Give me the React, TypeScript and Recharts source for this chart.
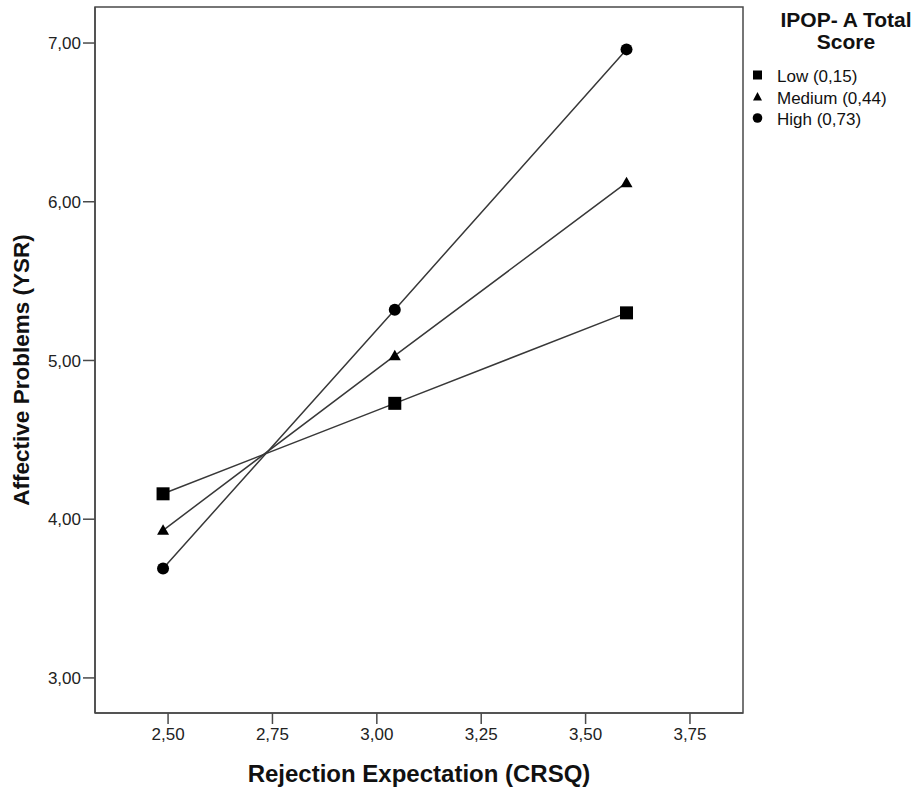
import React from "react";
import { Line, LineChart, ReferenceArea, XAxis, YAxis } from "recharts";

const xValues = [2.488, 3.043, 3.598];
const lowValues = [4.16, 4.73, 5.3];
const mediumValues = [3.93, 5.03, 6.12];
const highValues = [3.69, 5.32, 6.96];
const xTicks = [2.5, 2.75, 3.0, 3.25, 3.5, 3.75];
const yTicks = [3, 4, 5, 6, 7];
const seriesNames = ["Low (0,15)", "Medium (0,44)", "High (0,73)"];
const seriesShapes = ["square", "triangle", "circle"];

const X_DOMAIN: [number, number] = [2.325, 3.877];
const Y_DOMAIN: [number, number] = [2.779, 7.227];

const FONT = '"Liberation Sans", Arial, sans-serif';
const LINE = "#383838";
const AXIS = "#4a4a4a";

const fmt = (v: number) => v.toFixed(2).replace(".", ",");

const toRows = (ys: number[]) => xValues.map((x, i) => ({ x, y: ys[i] }));

function Marker({ cx, cy, shape }: { cx?: number; cy?: number; shape: string }) {
  if (cx == null || cy == null) return null;
  if (shape === "square") {
    return <rect x={cx - 6.5} y={cy - 6.5} width={13} height={13} fill="#000" />;
  }
  if (shape === "triangle") {
    return (
      <polygon
        points={`${cx},${cy - 6} ${cx - 6},${cy + 4.5} ${cx + 6},${cy + 4.5}`}
        fill="#000"
      />
    );
  }
  return <circle cx={cx} cy={cy} r={6} fill="#000" />;
}

// y title sits a little below the plot's middle in the original
function YTitle({ viewBox }: any) {
  const cy = (viewBox?.y ?? 0) + (viewBox?.height ?? 0) / 2 + 10;
  const x = 29;
  return (
    <text
      x={x}
      y={cy}
      transform={`rotate(-90, ${x}, ${cy})`}
      textAnchor="middle"
      fontSize={22.5}
      fontWeight="bold"
      fill="#111"
      fontFamily={FONT}
    >
      Affective Problems (YSR)
    </text>
  );
}

// legend drawn as an overlay so it does not eat into the plot width
function LegendOverlay() {
  return (
    <svg
      width={176}
      height={140}
      style={{ position: "absolute", left: 745, top: 0 }}
      fontFamily={FONT}
    >
      <text x={101} y={27} textAnchor="middle" fontSize={21} fontWeight="bold" fill="#111">
        IPOP- A Total
      </text>
      <text x={101} y={49} textAnchor="middle" fontSize={21} fontWeight="bold" fill="#111">
        Score
      </text>
      {seriesNames.map((name, i) => {
        const base = 82 + i * 21.5;
        const cy = base - 7;
        const shape = seriesShapes[i];
        return (
          <g key={name}>
            {shape === "square" && <rect x={8} y={cy - 4.5} width={9} height={9} fill="#000" />}
            {shape === "triangle" && (
              <polygon points={`12.5,${cy - 4.5} 8,${cy + 4} 17,${cy + 4}`} fill="#000" />
            )}
            {shape === "circle" && <circle cx={12.5} cy={cy} r={4.8} fill="#000" />}
            <text x={32} y={base} fontSize={17} fill="#111">
              {name}
            </text>
          </g>
        );
      })}
    </svg>
  );
}

const tickStyle = { fill: "#222", fontSize: 17, fontFamily: FONT };

export default function App() {
  const series = [lowValues, mediumValues, highValues];
  return (
    <div
      style={{
        position: "absolute",
        top: 0,
        left: 0,
        width: 921,
        height: 788,
        background: "#fff",
      }}
    >
      <LineChart
        width={921}
        height={788}
        margin={{ top: 7, right: 178, left: 0, bottom: 0 }}
      >
        <XAxis
          type="number"
          dataKey="x"
          domain={X_DOMAIN}
          ticks={xTicks}
          allowDataOverflow
          tickFormatter={fmt}
          height={75}
          tickSize={11}
          tickMargin={4}
          stroke={AXIS}
          strokeWidth={1.5}
          tick={tickStyle}
          label={{
            value: "Rejection Expectation (CRSQ)",
            position: "insideBottom",
            offset: 6,
            style: { fontSize: 24, fontWeight: "bold", fill: "#111", fontFamily: FONT },
          }}
        />
        <YAxis
          type="number"
          dataKey="y"
          domain={Y_DOMAIN}
          ticks={yTicks}
          allowDataOverflow
          tickFormatter={fmt}
          width={95}
          tickSize={12}
          tickMargin={2}
          stroke={AXIS}
          strokeWidth={1.5}
          tick={tickStyle}
          label={<YTitle />}
        />
        <ReferenceArea
          x1={X_DOMAIN[0]}
          x2={X_DOMAIN[1]}
          y1={Y_DOMAIN[0]}
          y2={Y_DOMAIN[1]}
          fill="none"
          stroke={AXIS}
          strokeWidth={1.5}
          ifOverflow="extendDomain"
        />
        {series.map((ys, i) => (
          <Line
            key={seriesNames[i]}
            name={seriesNames[i]}
            data={toRows(ys)}
            dataKey="y"
            type="linear"
            stroke={LINE}
            strokeWidth={1.5}
            isAnimationActive={false}
            dot={(p: any) => (
              <Marker key={`${i}-${p.index}`} cx={p.cx} cy={p.cy} shape={seriesShapes[i]} />
            )}
            activeDot={false}
          />
        ))}
      </LineChart>
      <LegendOverlay />
    </div>
  );
}
